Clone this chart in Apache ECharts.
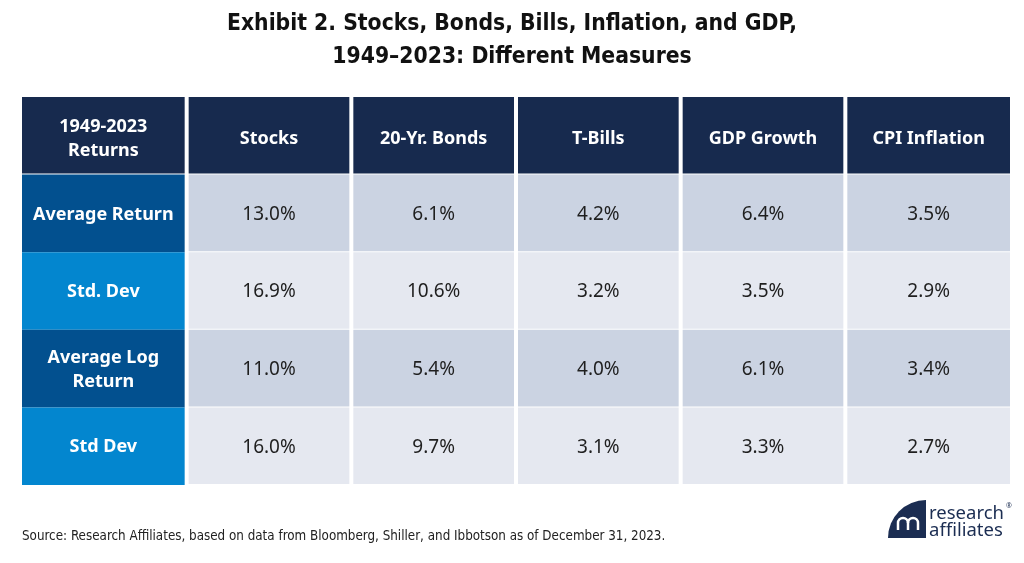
<!DOCTYPE html>
<html>
<head>
<meta charset="utf-8">
<script src="https://cdn.jsdelivr.net/npm/echarts@6/dist/echarts.min.js"></script>
<style>
html,body{margin:0;padding:0;background:#fff;}
#chart{width:1024px;height:563px;}
</style>
</head>
<body>
<div id="chart"></div>
<script>
// ---- data ----
const columns = ['1949-2023\nReturns', 'Stocks', '20-Yr. Bonds', 'T-Bills', 'GDP Growth', 'CPI Inflation'];
const rowLabels = ['Average Return', 'Std. Dev', 'Average Log\nReturn', 'Std Dev'];
const stocks = [13.0, 16.9, 11.0, 16.0];
const bonds = [6.1, 10.6, 5.4, 9.7];
const bills = [4.2, 3.2, 4.0, 3.1];
const gdp = [6.4, 3.5, 6.1, 3.3];
const cpi = [3.5, 2.9, 3.4, 2.7];

const seriesCols = [stocks, bonds, bills, gdp, cpi];
const yCats = ['header'].concat(rowLabels);

// build cells: [col, row, value]
const cells = [];
const cellText = [];
for (let c = 0; c < columns.length; c++) {
  cells.push([c, 0, 0]);
  cellText.push(columns[c]);
}
for (let r = 0; r < rowLabels.length; r++) {
  cells.push([0, r + 1, 0]);
  cellText.push(rowLabels[r]);
  for (let c = 0; c < seriesCols.length; c++) {
    const v = seriesCols[c][r];
    cells.push([c + 1, r + 1, v]);
    cellText.push(v.toFixed(1) + '%');
  }
}

const HEADER_BG = '#172a4e';
const LABEL_BG = ['#02508f', '#0386cf', '#02508f', '#0386cf'];
const DATA_BG = ['#cbd3e2', '#e5e8f0', '#cbd3e2', '#e5e8f0'];
const CELL_FONT = '"Noto Sans", "Open Sans", sans-serif';

function renderItem(params, api) {
  const c = api.value(0), r = api.value(1);
  const p = api.coord([c, r]);
  const sz = api.size([1, 1]);
  const w = sz[0], h = sz[1];
  let x0 = p[0] - w / 2, x1 = p[0] + w / 2;
  const y0 = p[1] - h / 2, y1 = p[1] + h / 2;
  if (c > 0) x0 += 2;
  if (c < columns.length - 1) x1 -= 2;
  let fill, color = '#fff', font = 'bold 18px ' + CELL_FONT;
  let gapBottom = 0, dy = 0;
  if (r === 0) { fill = HEADER_BG; gapBottom = 1; dy = 3; }
  else if (c === 0) { fill = LABEL_BG[r - 1]; dy = 1; }
  else { fill = DATA_BG[r - 1]; color = '#1f1f1f'; font = 'normal 19px ' + CELL_FONT; gapBottom = 1; dy = 1; }
  const txt = cellText[params.dataIndex];
  return {
    type: 'group',
    children: [
      { type: 'rect', shape: { x: x0, y: y0, width: x1 - x0, height: y1 - y0 - gapBottom }, style: { fill: fill } },
      { type: 'text', x: (x0 + x1) / 2, y: (y0 + y1) / 2 + dy,
        style: { text: txt, fill: color, font: font, align: 'center', verticalAlign: 'middle', lineHeight: 24 } }
    ]
  };
}

const chart = echarts.init(document.getElementById('chart'), null, { renderer: 'canvas' });
chart.setOption({
  backgroundColor: '#ffffff',
  animation: false,
  title: {
    text: 'Exhibit 2. Stocks, Bonds, Bills, Inflation, and GDP,\n1949–2023: Different Measures',
    left: 'center', top: 3,
    textStyle: { fontFamily: '"DejaVu Sans Condensed", sans-serif', fontWeight: 'bold', fontSize: 22.7, color: '#111', lineHeight: 33 }
  },
  grid: { left: 22, right: 14, top: 97, bottom: 78, containLabel: false },
  xAxis: { type: 'category', data: columns, show: false, boundaryGap: true },
  yAxis: { type: 'category', data: yCats, inverse: true, show: false, boundaryGap: true },
  series: [{
    type: 'custom',
    renderItem: renderItem,
    data: cells,
    encode: { x: 0, y: 1 },
    silent: true
  }],
  graphic: [
    { type: 'text', left: 22, top: 530,
      style: { text: 'Source: Research Affiliates, based on data from Bloomberg, Shiller, and Ibbotson as of December 31, 2023.',
        font: '13.3px "DejaVu Sans Condensed", sans-serif', fill: '#222' } },
    { type: 'sector', shape: { cx: 926, cy: 538, r: 38, r0: 0, startAngle: Math.PI, endAngle: Math.PI * 1.5, clockwise: true },
      style: { fill: '#1b2d52' } },
    { type: 'arc', shape: { cx: 903, cy: 523, r: 5, startAngle: Math.PI, endAngle: Math.PI * 2, clockwise: true },
      style: { stroke: '#fff', lineWidth: 2.5, fill: null } },
    { type: 'arc', shape: { cx: 913, cy: 523, r: 5, startAngle: Math.PI, endAngle: Math.PI * 2, clockwise: true },
      style: { stroke: '#fff', lineWidth: 2.5, fill: null } },
    { type: 'line', shape: { x1: 898, y1: 523, x2: 898, y2: 530 }, style: { stroke: '#fff', lineWidth: 2.5 } },
    { type: 'line', shape: { x1: 908, y1: 523, x2: 908, y2: 530 }, style: { stroke: '#fff', lineWidth: 2.5 } },
    { type: 'line', shape: { x1: 918, y1: 523, x2: 918, y2: 530 }, style: { stroke: '#fff', lineWidth: 2.5 } },
    { type: 'text', left: 929, top: 504,
      style: { text: 'research\naffiliates', font: '18.5px "Noto Sans", sans-serif', fill: '#1b2d52', lineHeight: 17 } },
    { type: 'text', left: 1006, top: 502,
      style: { text: '®', font: '7px "Noto Sans", sans-serif', fill: '#1b2d52' } }
  ]
});
</script>
</body>
</html>
